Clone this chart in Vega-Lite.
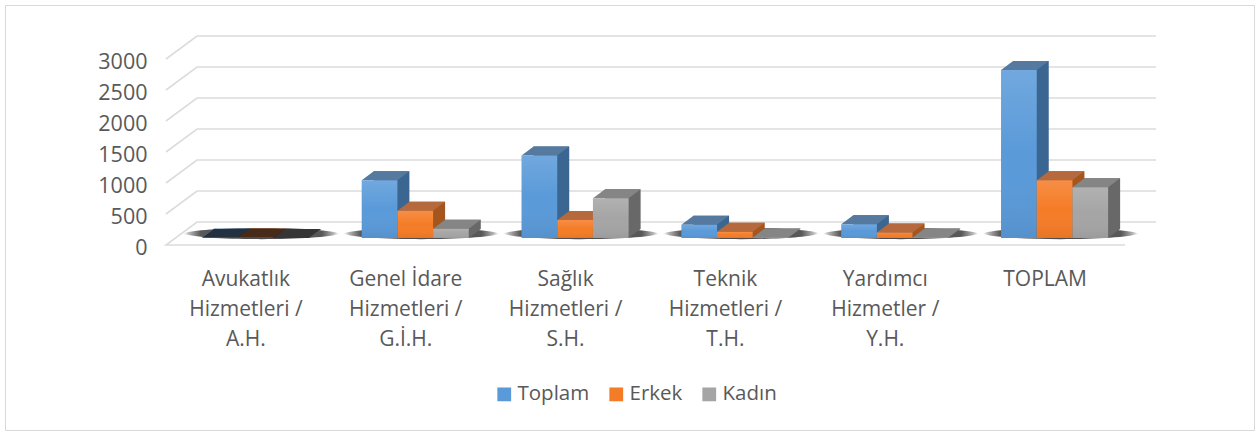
{
"$schema":"https://vega.github.io/schema/vega-lite/v6.json",
"width":1249,"height":425,
"autosize":{"type":"none"},
"padding":{"left":5,"top":5,"right":6,"bottom":2},
"background":"white",
"config":{"view":{"stroke":"#d9d9d9","strokeWidth":1},"font":"Open Sans"},
"datasets":{
"bars":[
{"kategori":"Avukatlık\nHizmetleri /\nA.H.","seri":"Toplam","deger":5},
{"kategori":"Avukatlık\nHizmetleri /\nA.H.","seri":"Erkek","deger":3},
{"kategori":"Avukatlık\nHizmetleri /\nA.H.","seri":"Kadın","deger":2},
{"kategori":"Genel İdare\nHizmetleri /\nG.İ.H.","seri":"Toplam","deger":930},
{"kategori":"Genel İdare\nHizmetleri /\nG.İ.H.","seri":"Erkek","deger":440},
{"kategori":"Genel İdare\nHizmetleri /\nG.İ.H.","seri":"Kadın","deger":150},
{"kategori":"Sağlık\nHizmetleri /\nS.H.","seri":"Toplam","deger":1330},
{"kategori":"Sağlık\nHizmetleri /\nS.H.","seri":"Erkek","deger":290},
{"kategori":"Sağlık\nHizmetleri /\nS.H.","seri":"Kadın","deger":640},
{"kategori":"Teknik\nHizmetleri /\nT.H.","seri":"Toplam","deger":215},
{"kategori":"Teknik\nHizmetleri /\nT.H.","seri":"Erkek","deger":100},
{"kategori":"Teknik\nHizmetleri /\nT.H.","seri":"Kadın","deger":10},
{"kategori":"Yardımcı\nHizmetler /\nY.H.","seri":"Toplam","deger":220},
{"kategori":"Yardımcı\nHizmetler /\nY.H.","seri":"Erkek","deger":90},
{"kategori":"Yardımcı\nHizmetler /\nY.H.","seri":"Kadın","deger":10},
{"kategori":"TOPLAM","seri":"Toplam","deger":2710},
{"kategori":"TOPLAM","seri":"Erkek","deger":930},
{"kategori":"TOPLAM","seri":"Kadın","deger":820}
],
"walls":[
{"g":0,"p":0,"u":6,"v":-113},{"g":0,"p":1,"u":0,"v":-113},{"g":0,"p":2,"u":0.194,"v":258},{"g":0,"p":3,"u":6.194,"v":258},
{"g":500,"p":1,"u":0,"v":387},{"g":500,"p":2,"u":0.194,"v":758},{"g":500,"p":3,"u":6.194,"v":758},
{"g":1000,"p":1,"u":0,"v":887},{"g":1000,"p":2,"u":0.194,"v":1258},{"g":1000,"p":3,"u":6.194,"v":1258},
{"g":1500,"p":1,"u":0,"v":1387},{"g":1500,"p":2,"u":0.194,"v":1758},{"g":1500,"p":3,"u":6.194,"v":1758},
{"g":2000,"p":1,"u":0,"v":1887},{"g":2000,"p":2,"u":0.194,"v":2258},{"g":2000,"p":3,"u":6.194,"v":2258},
{"g":2500,"p":1,"u":0,"v":2387},{"g":2500,"p":2,"u":0.194,"v":2758},{"g":2500,"p":3,"u":6.194,"v":2758},
{"g":3000,"p":1,"u":0,"v":2887},{"g":3000,"p":2,"u":0.194,"v":3258},{"g":3000,"p":3,"u":6.194,"v":3258}
]},
"resolve":{"scale":{"x":"independent","color":"independent"}},
"layer":[
{"data":{"name":"walls"},
 "mark":{"type":"line","stroke":"#dcdcdc","strokeWidth":1.6,"clip":false},
 "encoding":{
  "x":{"field":"u","type":"quantitative","axis":null,"scale":{"domain":[0,6],"range":[161,1120],"nice":false,"zero":false}},
  "y":{"field":"v","type":"quantitative","scale":{"domain":[0,3000],"range":[233,47],"nice":false,"zero":false},
       "axis":{"title":null,"values":[0,500,1000,1500,2000,2500,3000],"format":"d","grid":false,"domain":false,"ticks":false,"offset":-142,"labelPadding":0,"labelOffset":10,"labelFontSize":21.5,"labelColor":"#595959","labelFont":"Open Sans"}},
  "detail":{"field":"g"},
  "order":{"field":"p"}
 }},
{"data":{"name":"bars"},
 "encoding":{
  "x":{"field":"kategori","type":"nominal","sort":null,"axis":null,"scale":{"range":[182.5,1141.5],"paddingInner":0.33,"paddingOuter":0.165}},
  "y":{"field":"deger","type":"quantitative"}
 },
 "layer":[
 {"transform":[{"filter":"datum.seri=='Toplam'"}],
  "mark":{"type":"point","filled":true,"size":4,"opacity":1,"xOffset":-6,"shape":"M-78,-4.5 C-62,-12 62,-12 78,-4.5 C62,3 -62,3 -78,-4.5 Z",
   "fill":{"gradient":"radial","x1":0.5,"y1":0.5,"r1":0,"x2":0.5,"y2":0.5,"r2":0.5,"stops":[{"offset":0,"color":"rgba(0,0,0,0.7)"},{"offset":0.78,"color":"rgba(0,0,0,0.65)"},{"offset":0.92,"color":"rgba(0,0,0,0.3)"},{"offset":1,"color":"rgba(0,0,0,0)"}]}},
  "encoding":{"y":{"datum":0}}},
 {"mark":{"type":"bar","yOffset":-9,"y2Offset":-9},
  "encoding":{"xOffset":{"field":"seri","sort":["Toplam","Erkek","Kadın"],"scale":{"paddingInner":0,"paddingOuter":0}},
   "color":{"field":"seri","legend":null,"scale":{"domain":["Toplam","Erkek","Kadın"],"range":["#3b6692","#a5561f","#686868"]}}}}
 ]},
{"data":{"name":"bars"},
 "resolve":{"scale":{"color":"independent"}},
 "encoding":{
  "x":{"field":"kategori","type":"nominal","sort":null,"scale":{"range":[170.5,1129.5],"paddingInner":0.33,"paddingOuter":0.165},
       "axis":{"title":null,"labelAngle":0,"domain":false,"ticks":false,"offset":-162,"labelPadding":0,"labelOffset":-9.5,"labelExpr":"split(datum.label,'\\n')","labelLineHeight":30,"labelFontSize":21,"labelColor":"#595959","labelFont":"Open Sans","labelBaseline":"top"}},
  "y":{"field":"deger","type":"quantitative"}
 },
 "layer":[
 {"mark":{"type":"point","filled":true,"size":4,"opacity":1,"shape":"M17.8,0 L29.8,-9 L17.8,-9 Z"},
  "encoding":{"y":{"datum":0},"xOffset":{"field":"seri","sort":["Toplam","Erkek","Kadın"],"scale":{"paddingInner":0,"paddingOuter":0}},
   "color":{"field":"seri","legend":null,"scale":{"domain":["Toplam","Erkek","Kadın"],"range":["#3b6692","#a5561f","#686868"]}}}},
 {"mark":{"type":"point","filled":true,"size":4,"opacity":1,"shape":"M-17.8,0 L17.8,0 L29.8,-9 L-5.8,-9 Z"},
  "encoding":{"xOffset":{"field":"seri","sort":["Toplam","Erkek","Kadın"],"scale":{"paddingInner":0,"paddingOuter":0}},
   "color":{"field":"seri","legend":null,"scale":{"domain":["Toplam","Erkek","Kadın"],"range":["#55799f","#b5693c","#858585"]}}}},
 {"transform":[{"filter":"datum.seri=='Toplam' && indexof(datum.kategori,'Avukat')==0"}],
  "mark":{"type":"point","filled":true,"size":4,"opacity":0.6,"fill":"#000000","shape":"M-53.5,0 L53.5,0 L65.5,-9 L-41.5,-9 Z"},
  "encoding":{"y":{"datum":0}}},
 {"mark":{"type":"bar"},
  "encoding":{"xOffset":{"field":"seri","sort":["Toplam","Erkek","Kadın"],"scale":{"paddingInner":0,"paddingOuter":0}},
   "color":{"field":"seri","title":null,"scale":{"domain":["Toplam","Erkek","Kadın"],"range":["#5a9ad9","#f57c27","#a5a5a5"]},
    "legend":{"orient":"none","legendX":489,"legendY":379,"direction":"horizontal","columns":3,"symbolType":"square","symbolSize":190,"symbolStrokeWidth":0,"labelFontSize":20.5,"labelColor":"#595959","labelFont":"Open Sans","labelOffset":3,"columnPadding":16,"title":null}}}},
 {"mark":{"type":"bar",
   "fill":{"gradient":"linear","x1":0,"y1":0,"x2":0,"y2":1,"stops":[{"offset":0,"color":"rgba(255,255,255,0.14)"},{"offset":0.5,"color":"rgba(255,255,255,0)"},{"offset":1,"color":"rgba(0,0,0,0.06)"}]}},
  "encoding":{"xOffset":{"field":"seri","sort":["Toplam","Erkek","Kadın"],"scale":{"paddingInner":0,"paddingOuter":0}}}}
 ]}
]
}
